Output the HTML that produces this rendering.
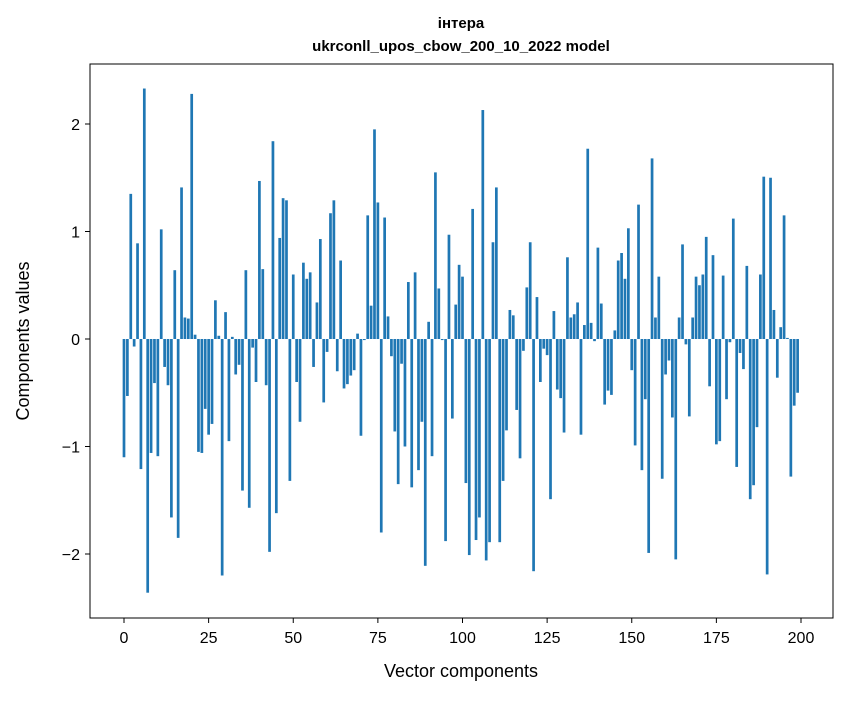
<!DOCTYPE html>
<html><head><meta charset="utf-8"><style>
body{margin:0;background:#fff;}
svg text{font-family:"Liberation Sans","DejaVu Sans",sans-serif;fill:#000;}
</style></head><body>
<svg id="chart" width="847" height="696" xmlns="http://www.w3.org/2000/svg">
<rect width="847" height="696" fill="#fff"/>
<text x="461" y="28" text-anchor="middle" font-size="15" font-weight="bold">інтера</text>
<text x="461" y="51" text-anchor="middle" font-size="15" font-weight="bold">ukrconll_upos_cbow_200_10_2022 model</text>
<g id="bars"></g>
<g id="xticks"></g>
<g id="yticks"></g>
<rect x="90" y="64" width="743" height="554" fill="none" stroke="#000" stroke-width="1"/>
<text x="461" y="677" text-anchor="middle" font-size="18">Vector components</text>
<text transform="translate(29,341) rotate(-90)" text-anchor="middle" font-size="18">Components values</text>
</svg>
<script>
const values = [-1.10,-0.53,1.35,-0.07,0.89,-1.21,2.33,-2.36,-1.06,-0.41,
-1.09,1.02,-0.26,-0.43,-1.66,0.64,-1.85,1.41,0.20,0.19,
2.28,0.04,-1.05,-1.06,-0.65,-0.89,-0.79,0.36,0.03,-2.20,
0.25,-0.95,0.02,-0.33,-0.24,-1.41,0.64,-1.57,-0.08,-0.40,
1.47,0.65,-0.43,-1.98,1.84,-1.62,0.94,1.31,1.29,-1.32,
0.60,-0.40,-0.77,0.71,0.56,0.62,-0.26,0.34,0.93,-0.59,
-0.12,1.17,1.29,-0.30,0.73,-0.46,-0.42,-0.34,-0.29,0.05,
-0.90,-0.01,1.15,0.31,1.95,1.27,-1.80,1.13,0.21,-0.16,
-0.86,-1.35,-0.23,-1.00,0.53,-1.38,0.62,-1.22,-0.77,-2.11,
0.16,-1.09,1.55,0.47,-0.01,-1.88,0.97,-0.74,0.32,0.69,
0.58,-1.34,-2.01,1.21,-1.87,-1.66,2.13,-2.06,-1.89,0.90,
1.41,-1.89,-1.32,-0.85,0.27,0.22,-0.66,-1.11,-0.11,0.48,
0.90,-2.16,0.39,-0.40,-0.09,-0.15,-1.49,0.26,-0.47,-0.55,
-0.87,0.76,0.20,0.23,0.34,-0.89,0.13,1.77,0.15,-0.02,
0.85,0.33,-0.61,-0.48,-0.52,0.08,0.73,0.80,0.56,1.03,
-0.29,-0.99,1.25,-1.22,-0.56,-1.99,1.68,0.20,0.58,-1.30,
-0.33,-0.20,-0.73,-2.05,0.20,0.88,-0.05,-0.72,0.20,0.58,
0.50,0.60,0.95,-0.44,0.78,-0.98,-0.95,0.59,-0.56,-0.03,
1.12,-1.19,-0.13,-0.28,0.68,-1.49,-1.36,-0.82,0.60,1.51,
-2.19,1.50,0.27,-0.36,0.11,1.15,0.01,-1.28,-0.62,-0.50];
const xTicks = [0,25,50,75,100,125,150,175,200];
const yTicks = [-2,-1,0,1,2];
const yTickLabels = ["\u22122","\u22121","0","1","2"];

const NS="http://www.w3.org/2000/svg";
const xs = v => 124 + v*3.385;
const ys = v => 339 - v*107.5;
const bars=document.getElementById('bars');
values.forEach((v,i)=>{
  const r=document.createElementNS(NS,'rect');
  const x0=xs(i-0.4), x1=xs(i+0.4);
  r.setAttribute('x',x0); r.setAttribute('width',x1-x0);
  r.setAttribute('y',Math.min(ys(v),ys(0))); r.setAttribute('height',Math.abs(ys(v)-ys(0)));
  r.setAttribute('fill','#1f77b4');
  
  
  bars.appendChild(r);
});
const xg=document.getElementById('xticks');
xTicks.forEach(t=>{
  const l=document.createElementNS(NS,'line');
  l.setAttribute('x1',xs(t));l.setAttribute('x2',xs(t));l.setAttribute('y1',618);l.setAttribute('y2',623);l.setAttribute('stroke','#000');
  
  
  xg.appendChild(l);
  const tx=document.createElementNS(NS,'text');
  tx.setAttribute('x',xs(t));tx.setAttribute('y',643);tx.setAttribute('text-anchor','middle');tx.setAttribute('font-size','16');
  tx.textContent=t;
  
  
  xg.appendChild(tx);
});
const yg=document.getElementById('yticks');
yTicks.forEach((t,i)=>{
  const l=document.createElementNS(NS,'line');
  l.setAttribute('x1',85);l.setAttribute('x2',90);l.setAttribute('y1',ys(t));l.setAttribute('y2',ys(t));l.setAttribute('stroke','#000');
  
  
  yg.appendChild(l);
  const tx=document.createElementNS(NS,'text');
  tx.setAttribute('x',80);tx.setAttribute('y',ys(t)+6);tx.setAttribute('text-anchor','end');tx.setAttribute('font-size','16');
  tx.textContent=yTickLabels[i];
  
  
  yg.appendChild(tx);
});
</script>
</body></html>
